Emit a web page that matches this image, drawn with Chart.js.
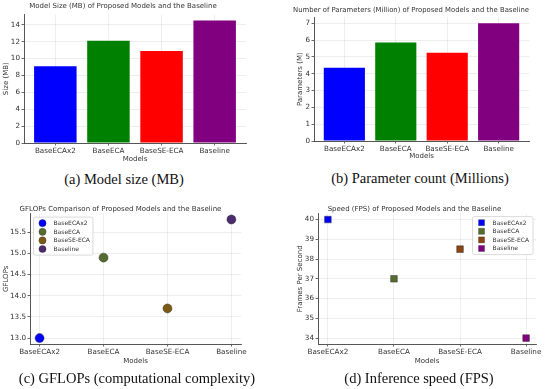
<!DOCTYPE html>
<html>
<head>
<meta charset="utf-8">
<script src="https://cdn.jsdelivr.net/npm/chart.js"></script>
<style>
  html, body { margin: 0; padding: 0; background: #ffffff; }
  body { width: 550px; height: 389px; position: relative; overflow: hidden; }
  canvas { position: absolute; }
  .cap { position: absolute; font-family: "Liberation Serif", "DejaVu Serif", serif; font-size: 14.5px; color: #111; white-space: nowrap; transform: translate(-50%, -50%); }
</style>
</head>
<body>
<canvas id="cA" width="275" height="165" style="left:0px;top:0px"></canvas>
<canvas id="cB" width="275" height="165" style="left:275px;top:0px"></canvas>
<canvas id="cC" width="275" height="175" style="left:0px;top:195px"></canvas>
<canvas id="cD" width="275" height="175" style="left:275px;top:195px"></canvas>
<div class="cap" style="left:124px;top:179px">(a) Model size (MB)</div>
<div class="cap" style="left:420px;top:178px">(b) Parameter count (Millions)</div>
<div class="cap" style="left:137px;top:378px">(c) GFLOPs (computational complexity)</div>
<div class="cap" style="left:419px;top:378px">(d) Inference speed (FPS)</div>
<script>
// ---------- data ----------
const categories = ['BaseECAx2', 'BaseECA', 'BaseSE-ECA', 'Baseline'];
const categoryPositions = [0, 1, 2, 3];
const modelSizeMB = [9.1, 12.1, 10.9, 14.5];
const paramsMillion = [4.35, 5.85, 5.25, 7.0];
const gflops = [13.0, 14.9, 13.7, 15.8];
const fps = [40, 37, 38.5, 34];
const sizeTicks = [0, 2, 4, 6, 8, 10, 12, 14];
const paramTicks = [0, 1, 2, 3, 4, 5, 6, 7];
const gflopsTicks = [13.0, 13.5, 14.0, 14.5, 15.0, 15.5];
const fpsTicks = [34, 35, 36, 37, 38, 39, 40];
const barColors = ['#0000ff', '#008000', '#ff0000', '#800080'];
const gflopsColors = ['#0000ff', '#556b2f', '#7b5a14', '#4b2a6e'];
const fpsColors = ['#0000ff', '#556b2f', '#8b4513', '#800080'];

// ---------- common style ----------
const FONT = '"DejaVu Sans", sans-serif';
const TXT = '#333333';
Chart.defaults.font.family = FONT;
Chart.defaults.color = TXT;

function fixTicks(arr) { return (s) => { s.ticks = arr.map(v => ({ value: v })); }; }
function gridOpts() {
  return { color: 'rgba(0,0,0,0.085)', lineWidth: 0.8, drawTicks: true, tickLength: 2.5, tickColor: '#444', tickWidth: 0.8, offset: false };
}
function borderOpts() { return { display: true, color: '#444', width: 0.9 }; }

function xScale(min, max, titlePadBottom, height) {
  return {
    type: 'linear', min: min, max: max, offset: false,
    afterBuildTicks: fixTicks(categoryPositions),
    afterFit: (s) => { s.height = height; },
    ticks: { callback: (v) => categories[v], font: { size: 7.2 }, color: TXT, padding: 1.5, maxRotation: 0, autoSkip: false },
    grid: gridOpts(), border: borderOpts(),
    title: { display: true, text: 'Models', font: { size: 7 }, color: TXT, padding: { top: 0, bottom: titlePadBottom } }
  };
}
function yScale(min, max, ticksArr, label, width, titlePadTop, fmt) {
  return {
    type: 'linear', min: min, max: max,
    afterBuildTicks: fixTicks(ticksArr),
    afterFit: (s) => { s.width = width; },
    ticks: { callback: fmt || ((v) => String(v)), font: { size: 7.2 }, color: TXT, padding: 1.5 },
    grid: gridOpts(), border: borderOpts(),
    title: { display: true, text: label, font: { size: 7 }, color: TXT, padding: { top: titlePadTop, bottom: 0 } }
  };
}
function titleOpts(text, padTop, padBottom) {
  return { display: true, text: text, font: { size: 7, weight: 'normal' }, color: TXT, padding: { top: padTop, bottom: padBottom } };
}

// ---------- boxed legend plugin (matplotlib style, inside plot) ----------
const boxLegend = {
  id: 'boxLegend',
  afterDatasetsDraw(chart, args, o) {
    if (!o || !o.display) return;
    const ctx = chart.ctx, a = chart.chartArea, ds = chart.data.datasets;
    ctx.save();
    ctx.font = o.fontSize + 'px ' + FONT;
    const tw = Math.max(...ds.map(d => ctx.measureText(d.label).width));
    const w = o.textX + tw + o.padR;
    const h = o.padY * 2 + ds.length * o.rowH;
    const x = o.align === 'right' ? a.right - o.margin - w : a.left + o.margin;
    const y = a.top + o.margin;
    ctx.beginPath();
    ctx.roundRect(x, y, w, h, 2);
    ctx.fillStyle = 'rgba(255,255,255,0.85)';
    ctx.fill();
    ctx.strokeStyle = '#d0d0d0';
    ctx.lineWidth = 0.8;
    ctx.stroke();
    ds.forEach((d, i) => {
      const cy = y + o.padY + o.rowH * (i + 0.5);
      const cx = x + o.markerX;
      ctx.fillStyle = d.backgroundColor;
      ctx.strokeStyle = d.borderColor;
      ctx.lineWidth = 0.6;
      ctx.beginPath();
      if (o.marker === 'rect') {
        ctx.rect(cx - o.markerR, cy - o.markerR, o.markerR * 2, o.markerR * 2);
      } else {
        ctx.arc(cx, cy, o.markerR, 0, Math.PI * 2);
      }
      ctx.fill();
      ctx.stroke();
      ctx.fillStyle = TXT;
      ctx.textBaseline = 'middle';
      ctx.textAlign = 'left';
      ctx.fillText(d.label, x + o.textX, cy + 0.3);
    });
    ctx.restore();
  }
};
Chart.register(boxLegend);

// ---------- (a) model size ----------
new Chart(document.getElementById('cA'), {
  type: 'bar',
  data: { datasets: [{
    data: categoryPositions.map((p, i) => ({ x: p, y: modelSizeMB[i] })),
    backgroundColor: barColors, borderWidth: 0,
    categoryPercentage: 1.0, barPercentage: 0.8
  }] },
  options: {
    responsive: false, animation: false, devicePixelRatio: 1,
    layout: { padding: { left: 0, right: 29, top: 0, bottom: 0 } },
    plugins: { legend: { display: false }, tooltip: { enabled: false },
      title: titleOpts('Model Size (MB) of Proposed Models and the Baseline', 2, 4) },
    scales: {
      x: xScale(-0.59, 3.59, 1.5, 22),
      y: yScale(0, 15.225, sizeTicks, 'Size (MB)', 24, 2)
    }
  }
});

// ---------- (b) parameter count ----------
new Chart(document.getElementById('cB'), {
  type: 'bar',
  data: { datasets: [{
    data: categoryPositions.map((p, i) => ({ x: p, y: paramsMillion[i] })),
    backgroundColor: barColors, borderWidth: 0,
    categoryPercentage: 1.0, barPercentage: 0.8
  }] },
  options: {
    responsive: false, animation: false, devicePixelRatio: 1,
    layout: { padding: { left: 18, right: 21, top: 4, bottom: 0 } },
    plugins: { legend: { display: false }, tooltip: { enabled: false },
      title: titleOpts('Number of Parameters (Million) of Proposed Models and the Baseline', 2, 3) },
    scales: {
      x: xScale(-0.59, 3.59, 5, 24),
      y: yScale(0, 7.35, paramTicks, 'Parameters (M)', 21, 3)
    }
  }
});

// ---------- (c) GFLOPs ----------
new Chart(document.getElementById('cC'), {
  type: 'scatter',
  data: { datasets: categories.map((c, i) => ({
    label: c,
    data: [{ x: categoryPositions[i], y: gflops[i] }],
    backgroundColor: gflopsColors[i], borderColor: 'rgba(40,40,40,0.55)', borderWidth: 0.8,
    pointRadius: 4.5, pointStyle: 'circle'
  })) },
  options: {
    responsive: false, animation: false, devicePixelRatio: 1,
    layout: { padding: { left: 0, right: 34, top: 8, bottom: 0 } },
    plugins: { legend: { display: false }, tooltip: { enabled: false },
      title: titleOpts('GFLOPs Comparison of Proposed Models and the Baseline', 2, 0.2),
      boxLegend: { display: true, align: 'left', margin: 3.5, fontSize: 6, rowH: 8.6, padY: 1.8, markerX: 9, markerR: 3.6, marker: 'circle', textX: 20, padR: 3 } },
    scales: {
      x: xScale(-0.15, 3.15, 5, 26),
      y: yScale(12.86, 15.94, gflopsTicks, 'GFLOPs', 30, 2, (v) => v.toFixed(1))
    }
  }
});

// ---------- (d) FPS ----------
new Chart(document.getElementById('cD'), {
  type: 'scatter',
  data: { datasets: categories.map((c, i) => ({
    label: c,
    data: [{ x: categoryPositions[i], y: fps[i] }],
    backgroundColor: fpsColors[i], borderColor: 'rgba(40,40,40,0.55)', borderWidth: 0.8,
    pointRadius: 4.7, pointStyle: 'rect'
  })) },
  options: {
    responsive: false, animation: false, devicePixelRatio: 1,
    layout: { padding: { left: 18, right: 14, top: 8, bottom: 0 } },
    plugins: { legend: { display: false }, tooltip: { enabled: false },
      title: titleOpts('Speed (FPS) of Proposed Models and the Baseline', 2, 0.2),
      boxLegend: { display: true, align: 'right', margin: 3, fontSize: 6, rowH: 8.6, padY: 1.8, markerX: 9, markerR: 3, marker: 'rect', textX: 20, padR: 4 } },
    scales: {
      x: xScale(-0.15, 3.15, 5, 26),
      y: yScale(33.7, 40.3, fpsTicks, 'Frames Per Second', 25, 3)
    }
  }
});
</script>
</body>
</html>
